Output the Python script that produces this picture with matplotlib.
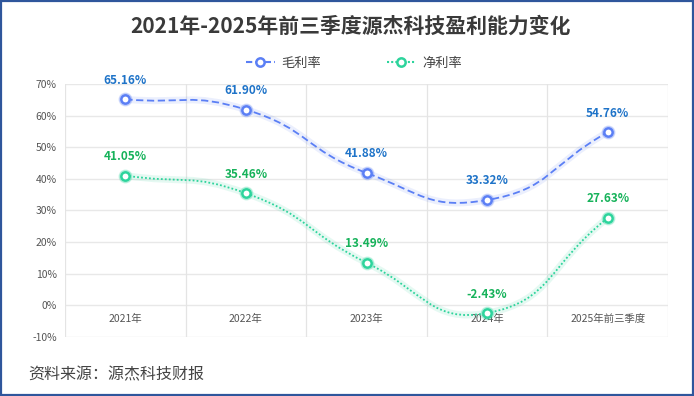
import numpy as np
import matplotlib
matplotlib.use('Agg')
import matplotlib.pyplot as plt
from matplotlib.path import Path
from matplotlib.patches import PathPatch, Rectangle
from matplotlib.lines import Line2D

plt.rcParams['font.family'] = ['Noto Sans CJK SC', 'DejaVu Sans']

categories = ['2021年', '2022年', '2023年', '2024年', '2025年前三季度']
gross_margin = [65.16, 61.90, 41.88, 33.32, 54.76]
net_margin = [41.05, 35.46, 13.49, -2.43, 27.63]
yticks = [-10, 0, 10, 20, 30, 40, 50, 60, 70]

BLUE = '#5b7ff5'
BLUE_TXT = '#1e73c8'
GREEN = '#2dd49c'
GREEN_TXT = '#16b25a'


def smooth_path(xs, ys, sx=120.0, sy=3.16, smooth=0.5):
    # echarts-like smoothing, computed in approx pixel space
    px = np.array(xs, float) * sx
    py = np.array(ys, float) * sy
    n = len(px)
    cps = []
    for i in range(n):
        ip = max(i - 1, 0)
        inx = min(i + 1, n - 1)
        vx, vy = px[inx] - px[ip], py[inx] - py[ip]
        d0 = np.hypot(px[i] - px[ip], py[i] - py[ip])
        d1 = np.hypot(px[inx] - px[i], py[inx] - py[i])
        r1 = d1 / (d0 + d1)
        r0 = 1 - r1
        c0 = (px[i] - vx * smooth * r0, py[i] - vy * smooth * r0)
        c1 = (px[i] + vx * smooth * r1, py[i] + vy * smooth * r1)
        cps.append((c0, c1))
    verts = [(px[0], py[0])]
    codes = [Path.MOVETO]
    for i in range(n - 1):
        verts += [cps[i][1], cps[i + 1][0], (px[i + 1], py[i + 1])]
        codes += [Path.CURVE4] * 3
    verts = [(x / sx, y / sy) for x, y in verts]
    return Path(verts, codes)


fig = plt.figure(figsize=(6.94, 3.96), dpi=100)
fig.patches.append(Rectangle((0.002, 0.003), 0.996, 0.994, transform=fig.transFigure,
                             fill=False, edgecolor='#2f569c', linewidth=1.6))

ax = fig.add_axes([0.0937, 0.149, 0.8688, 0.6389])
x = np.arange(len(categories))
ax.set_xlim(-0.5, len(categories) - 0.5)
ax.set_ylim(-10, 70)

for y in yticks:
    ax.axhline(y, color='#e8e8e8', linewidth=1, zorder=0)
for b in np.arange(-0.5, len(categories), 1):
    ax.axvline(b, color='#e4e4e4', linewidth=0.9, zorder=0)
for s in ax.spines.values():
    s.set_visible(False)

ax.set_yticks(yticks)
ax.set_yticklabels([f'{v}%' for v in yticks], fontsize=7.5, color='#555555')
ax.set_xticks([])
ax.tick_params(axis='y', length=0, pad=6)
for i, c in enumerate(categories):
    ax.text(i, -4.2, c, ha='center', va='center', fontsize=7.5, color='#555555')

for vals, col, ls in [(gross_margin, BLUE, (0, (4, 2))), (net_margin, GREEN, (0, (1, 1.2)))]:
    p = smooth_path(x, vals)
    ax.add_patch(PathPatch(p, fill=False, edgecolor=col, alpha=0.12, linewidth=5, zorder=2))
    ax.add_patch(PathPatch(p, fill=False, edgecolor=col, linewidth=1.3, linestyle=ls, zorder=3))
    ax.plot(x, vals, 'o', ms=9, color=col, alpha=0.25, zorder=4)
    ax.plot(x, vals, 'o', ms=6, markerfacecolor='white', markeredgecolor=col,
            markeredgewidth=1.8, zorder=5)

for i, v in enumerate(gross_margin):
    ax.annotate(f'{v:.2f}%', (i, v), xytext=(0, 9), textcoords='offset points',
                ha='center', va='bottom', fontsize=8.5, fontweight='bold', color=BLUE_TXT)
for i, v in enumerate(net_margin):
    ax.annotate(f'{v:.2f}%', (i, v), xytext=(0, 9), textcoords='offset points',
                ha='center', va='bottom', fontsize=8.5, fontweight='bold', color=GREEN_TXT)

fig.text(0.505, 0.935, '2021年-2025年前三季度源杰科技盈利能力变化', ha='center', va='center',
         fontsize=15, fontweight='bold', color='#3a3a3a')

h1 = Line2D([], [], color=BLUE, linestyle=(0, (3, 1.5)), marker='o', ms=6,
            markerfacecolor='white', markeredgecolor=BLUE, markeredgewidth=1.8)
h2 = Line2D([], [], color=GREEN, linestyle=(0, (1, 1)), marker='o', ms=6,
            markerfacecolor='white', markeredgecolor=GREEN, markeredgewidth=1.8)
fig.legend([h1, h2], ['毛利率', '净利率'], loc='center', bbox_to_anchor=(0.51, 0.84),
           ncol=2, frameon=False, fontsize=9.5, handlelength=2.2, columnspacing=5,
           handletextpad=0.5, labelcolor='#444444')

fig.text(0.04, 0.053, '资料来源：源杰科技财报', ha='left', va='center', fontsize=11.5, color='#444444')

fig.savefig('out.png', dpi=100, facecolor='white')
